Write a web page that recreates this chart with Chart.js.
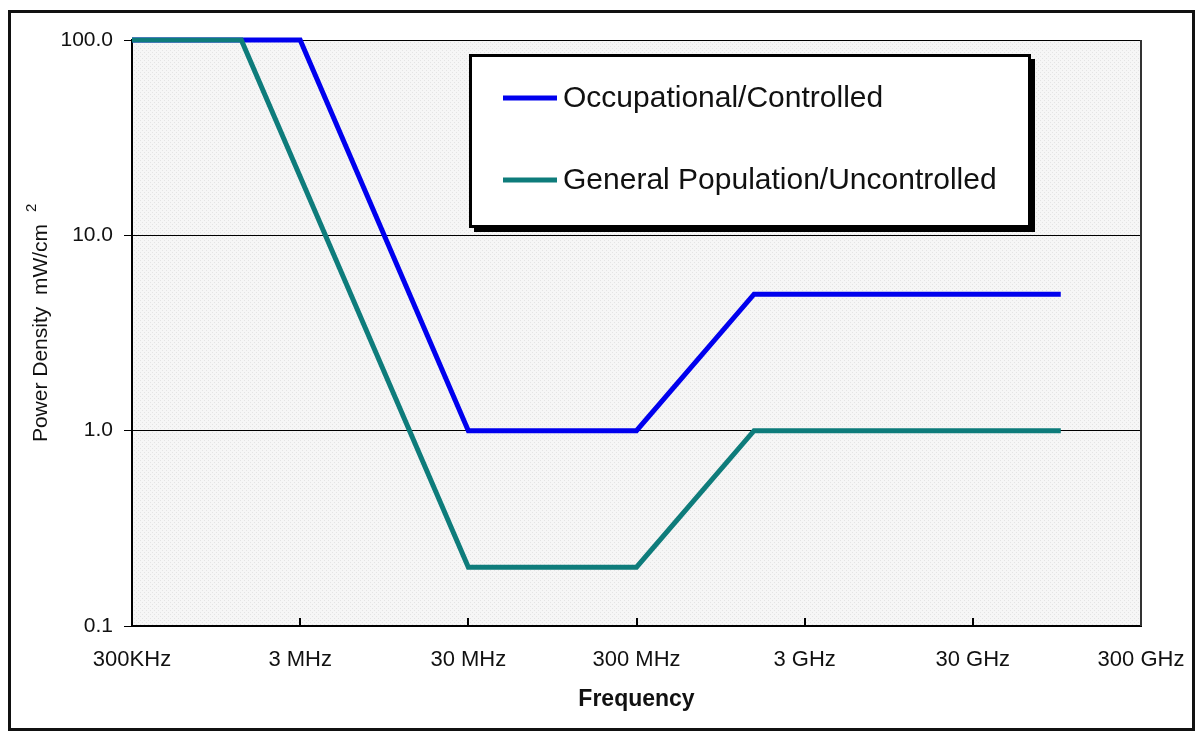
<!DOCTYPE html>
<html>
<head>
<meta charset="utf-8">
<script src="https://cdn.jsdelivr.net/npm/chart.js@4.4.1/dist/chart.umd.min.js"></script>
<style>
    html, body { margin: 0; padding: 0; background: #ffffff; }
    #wrap { width: 1196px; height: 732px; }
</style>
</head>
<body>
<div id="wrap"><canvas id="mpeChart" width="1196" height="732"></canvas></div>
<script>
// frequencies in MHz
const freqTicks = [0.3, 3, 30, 300, 3000, 30000, 300000];
const freqLabels = ['300KHz', '3 MHz', '30 MHz', '300 MHz', '3 GHz', '30 GHz', '300 GHz'];
const densityTicks = [0.1, 1, 10, 100];

const occFreq = [0.3, 3, 30, 300, 1500, 100000];
const occDensity = [100, 100, 1, 1, 5, 5];
const genFreq = [0.3, 1.34, 30, 300, 1500, 100000];
const genDensity = [100, 100, 0.2, 0.2, 1, 1];

const FONT = 'Arial, "Liberation Sans", Helvetica, sans-serif';

function toPoints(xs, ys) {
    return xs.map((x, i) => ({ x: x, y: ys[i] }));
}

function makePattern() {
    const c = document.createElement('canvas');
    c.width = 4;
    c.height = 4;
    const g = c.getContext('2d');
    g.fillStyle = '#f6f6f6';
    g.fillRect(0, 0, 4, 4);
    g.fillStyle = '#e4e4e4';
    g.fillRect(0, 0, 1, 1);
    g.fillRect(2, 2, 1, 1);
    return g.createPattern(c, 'repeat');
}

const decorPlugin = {
    id: 'decor',
    beforeDraw(chart) {
        const { ctx, chartArea: a } = chart;
        ctx.save();
        ctx.fillStyle = makePattern();
        ctx.fillRect(a.left, a.top, a.right - a.left, a.bottom - a.top);
        ctx.restore();
    },
    afterDraw(chart) {
        const { ctx, chartArea: a } = chart;
        const xs = chart.scales.x;
        ctx.save();

        // right edge of plot
        ctx.strokeStyle = '#333333';
        ctx.lineWidth = 2;
        ctx.beginPath();
        ctx.moveTo(a.right, a.top);
        ctx.lineTo(a.right, a.bottom);
        ctx.stroke();

        // inner tick marks on the frequency axis
        ctx.strokeStyle = '#000000';
        ctx.lineWidth = 2;
        freqTicks.slice(1, -1).forEach(v => {
            const px = Math.round(xs.getPixelForValue(v));
            ctx.beginPath();
            ctx.moveTo(px, a.bottom);
            ctx.lineTo(px, a.bottom - 8);
            ctx.stroke();
        });

        // y axis title with superscript
        ctx.fillStyle = '#111111';
        ctx.translate(41, (a.top + a.bottom) / 2);
        ctx.rotate(-Math.PI / 2);
        ctx.font = '21px ' + FONT;
        ctx.textAlign = 'center';
        ctx.textBaseline = 'middle';
        const title = 'Power Density  mW/cm';
        ctx.fillText(title, 0, 0);
        const w = ctx.measureText(title).width;
        ctx.font = '15px ' + FONT;
        ctx.textAlign = 'left';
        ctx.fillText('2', w / 2 + 12, -9);
        ctx.setTransform(1, 0, 0, 1, 0, 0);

        // legend box with shadow
        const bx = 470, by = 55, bw = 559, bh = 171;
        ctx.fillStyle = '#000000';
        ctx.fillRect(bx + 4, by + 4, bw + 2, bh + 2);
        ctx.fillStyle = '#ffffff';
        ctx.fillRect(bx, by, bw, bh);
        ctx.strokeStyle = '#000000';
        ctx.lineWidth = 3;
        ctx.strokeRect(bx + 0.5, by + 0.5, bw, bh);

        const rows = [98, 180];
        chart.data.datasets.forEach((ds, i) => {
            ctx.strokeStyle = ds.borderColor;
            ctx.lineWidth = 5;
            ctx.beginPath();
            ctx.moveTo(503, rows[i]);
            ctx.lineTo(557, rows[i]);
            ctx.stroke();
            ctx.fillStyle = '#111111';
            ctx.font = '30px ' + FONT;
            ctx.textAlign = 'left';
            ctx.textBaseline = 'middle';
            ctx.fillText(ds.label, 563, rows[i] + 1);
        });

        // outer frame
        ctx.strokeStyle = '#111111';
        ctx.lineWidth = 3;
        ctx.strokeRect(9.5, 11.5, 1184, 718);
        ctx.restore();
    }
};

new Chart(document.getElementById('mpeChart').getContext('2d'), {
    type: 'scatter',
    data: {
        datasets: [{
            label: 'Occupational/Controlled',
            data: toPoints(occFreq, occDensity),
            borderColor: '#0000ee',
            backgroundColor: '#0000ee',
            borderWidth: 5,
            showLine: true,
            pointRadius: 0,
            clip: false,
            order: 2
        }, {
            label: 'General Population/Uncontrolled',
            data: toPoints(genFreq, genDensity),
            borderColor: '#0e7c7b',
            backgroundColor: '#0e7c7b',
            borderWidth: 5,
            showLine: true,
            pointRadius: 0,
            clip: false,
            order: 1
        }]
    },
    options: {
        responsive: false,
        animation: false,
        devicePixelRatio: 1,
        layout: {
            padding: { left: 0, right: 55, top: 40, bottom: 0 }
        },
        plugins: {
            legend: { display: false },
            tooltip: { enabled: false }
        },
        scales: {
            x: {
                type: 'logarithmic',
                min: 0.3,
                max: 300000,
                afterBuildTicks: scale => {
                    scale.ticks = freqTicks.map(v => ({ value: v }));
                },
                afterFit: scale => { scale.height = 106; },
                grid: {
                    drawOnChartArea: false,
                    drawTicks: true,
                    tickLength: 18,
                    tickColor: 'rgba(0,0,0,0)'
                },
                border: { display: true, color: '#000000', width: 2 },
                ticks: {
                    autoSkip: false,
                    maxRotation: 0,
                    padding: 3,
                    color: '#111111',
                    font: { family: FONT, size: 22 },
                    callback: (v, i) => freqLabels[i]
                },
                title: {
                    display: true,
                    text: 'Frequency',
                    color: '#111111',
                    font: { family: FONT, size: 23, weight: 'bold' },
                    padding: { top: 0, bottom: 19 }
                }
            },
            y: {
                type: 'logarithmic',
                min: 0.1,
                max: 100,
                afterBuildTicks: scale => {
                    scale.ticks = densityTicks.map(v => ({ value: v }));
                },
                afterFit: scale => { scale.width = 132; },
                grid: {
                    color: '#000000',
                    lineWidth: 1,
                    tickLength: 8,
                    tickColor: '#000000'
                },
                border: { display: true, color: '#000000', width: 2 },
                ticks: {
                    padding: 11,
                    color: '#111111',
                    font: { family: FONT, size: 21 },
                    callback: v => Number(v).toFixed(1)
                }
            }
        }
    },
    plugins: [decorPlugin]
});
</script>
</body>
</html>
